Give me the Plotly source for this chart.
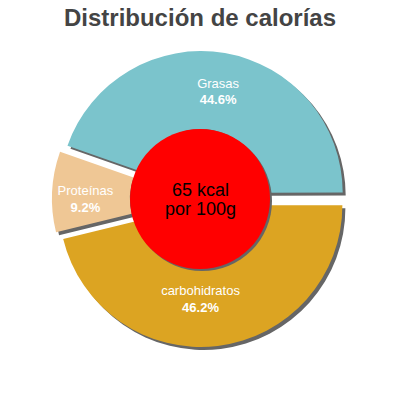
import plotly.graph_objects as go

labels = ["Grasas", "carbohidratos", "Proteínas"]
values = [44.6, 46.2, 9.2]
colors = ["#7bc4cc", "#dca422", "#efc795"]
center_lines = ["65 kcal", "por 100g"]
title_text = "Distribución de calorías"

W = H = 400
S = 8  # page body offset in the screenshot
ML, MT, PW = 52 - S, 51 - S, 299
MR, MB = W - ML - PW, H - MT - PW
off = 3 / PW

fig = go.Figure()
# shadow pie
fig.add_trace(go.Pie(
    labels=labels, values=values, sort=False, direction="clockwise", rotation=-70.6,
    pull=[0.045] * 3, hole=0.45,
    marker=dict(colors=["#666666"] * 3, line=dict(width=0)),
    textinfo="none", hoverinfo="skip", showlegend=False,
    domain=dict(x=[off, 1], y=[0, 1 - off]),
))
# main pie
fig.add_trace(go.Pie(
    labels=labels, values=values, sort=False, direction="clockwise", rotation=-70.6,
    pull=[0.045] * 3, hole=0.45,
    marker=dict(colors=colors, line=dict(width=0)),
    texttemplate="%{label}<br><b>%{value}%</b>", textposition="inside",
    insidetextorientation="horizontal",
    insidetextfont=dict(family="Liberation Sans", size=13, color="white"),
    hoverinfo="label+percent", showlegend=False,
    domain=dict(x=[0, 1 - off], y=[off, 1]),
))

def px2paper(x, y):
    return (x - S - ML) / PW, 1 - (y - S - MT) / PW

cx, cy, r = 200, 199, 70
shapes = []
for dx, col in [(2, "#666666"), (0, "#ff0000")]:
    x0, y0 = px2paper(cx - r + dx, cy + r + dx)
    x1, y1 = px2paper(cx + r + dx, cy - r + dx)
    shapes.append(dict(type="circle", xref="paper", yref="paper",
                       x0=x0, y0=y0, x1=x1, y1=y1,
                       fillcolor=col, line=dict(width=0), layer="above"))

annotations = []
for i, t in enumerate(center_lines):
    ax, ay = px2paper(cx, 190 + 19 * i)
    annotations.append(dict(text=t, x=ax, y=ay, xref="paper", yref="paper",
                            showarrow=False, xanchor="center", yanchor="middle",
                            font=dict(family="Liberation Sans", size=18, color="black")))

fig.update_layout(
    width=W, height=H,
    margin=dict(l=ML, r=MR, t=MT, b=MB),
    paper_bgcolor="white", plot_bgcolor="white",
    title=dict(text="<b>" + title_text + "</b>", x=(200 - S) / W, xanchor="center",
               y=1 - (18 - S) / H, yanchor="middle", yref="container",
               font=dict(family="Liberation Sans", size=24, color="#444444")),
    shapes=shapes, annotations=annotations,
)
fig.write_html("out.html")
